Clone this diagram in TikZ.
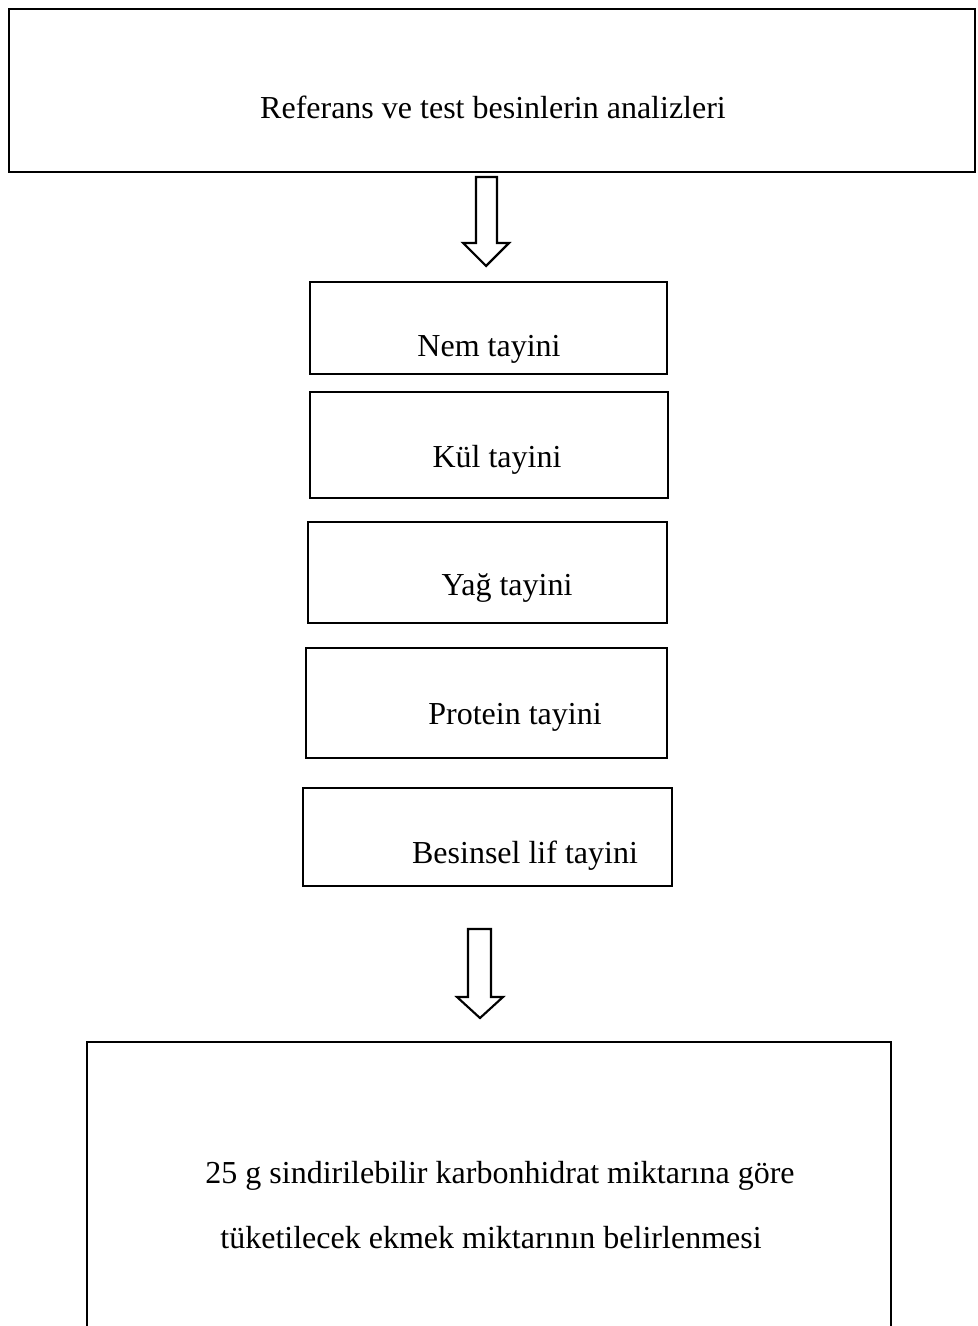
\documentclass[tikz,border=0pt]{standalone}
\usepackage{fontspec}
\setmainfont{Liberation Serif}
\begin{document}
\begin{tikzpicture}[x=0.75pt,y=-0.75pt,
  boxline/.style={draw=black, line width=1.7pt},
  lbl/.style={anchor=base, inner sep=0pt, font=\fontsize{24}{28.8}\selectfont},
  blockarrow/.style={draw=black, line width=1.6pt, fill=white, line join=miter}]
\useasboundingbox (0,0) rectangle (977,1326);
\clip (0,0) rectangle (977,1326);
% boxes
\draw[boxline] (9,9) rectangle (975,172);
\node[lbl] (ttop) at (493,119) {Referans ve test besinlerin analizleri};

\draw[boxline] (310,282) rectangle (667,374);
\node[lbl] (tnem) at (489,357) {Nem tayini};

\draw[boxline] (310,392) rectangle (668,498);
\node[lbl] (tkul) at (497,467) {Kül tayini};

\draw[boxline] (308,522) rectangle (667,623);
\node[lbl] (tyag) at (507,595) {Yağ tayini};

\draw[boxline] (306,648) rectangle (667,758);
\node[lbl] (tprot) at (515,724) {Protein tayini};

\draw[boxline] (303,788) rectangle (672,886);
\node[lbl] (tlif) at (525,863) {Besinsel lif tayini};

\draw[boxline] (87,1340) -- (87,1042) -- (891,1042) -- (891,1340);
\node[lbl] (tb1) at (500,1183) {25 g sindirilebilir karbonhidrat miktarına göre};
\node[lbl] (tb2) at (491,1248) {tüketilecek ekmek miktarının belirlenmesi};

% block arrows
\draw[blockarrow] (476,177) -- (497,177) -- (497,243) -- (509,243) -- (486,266)
  -- (463,243) -- (476,243) -- cycle;
\draw[blockarrow] (468,929) -- (491,929) -- (491,997) -- (503,997) -- (480,1018)
  -- (457,997) -- (468,997) -- cycle;
\end{tikzpicture}
\end{document}
